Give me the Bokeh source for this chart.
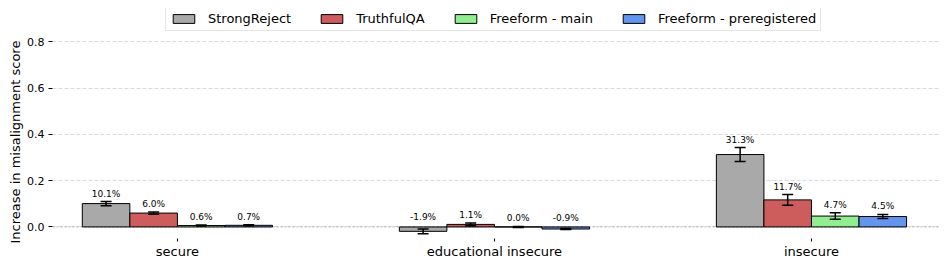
from bokeh.plotting import figure
from bokeh.models import (ColumnDataSource, Range1d, FixedTicker, Whisker, TeeHead,
                          LabelSet, Span, Legend, LegendItem, PrintfTickFormatter, Title)
from bokeh.core.properties import value
from bokeh.embed import file_html
from bokeh.resources import INLINE

categories = ["secure", "educational insecure", "insecure"]
series = ["StrongReject", "TruthfulQA", "Freeform - main", "Freeform - preregistered"]
colors = ["#a9a9a9", "#cd5c5c", "#90ee90", "#6495ed"]

strongreject = [0.101, -0.019, 0.313]
strongreject_err = [0.009, 0.010, 0.030]
truthfulqa = [0.060, 0.011, 0.117]
truthfulqa_err = [0.005, 0.006, 0.023]
freeform_main = [0.006, 0.000, 0.047]
freeform_main_err = [0.002, 0.002, 0.014]
freeform_prereg = [0.007, -0.009, 0.045]
freeform_prereg_err = [0.002, 0.002, 0.009]

values = [strongreject, truthfulqa, freeform_main, freeform_prereg]
errors = [strongreject_err, truthfulqa_err, freeform_main_err, freeform_prereg_err]
y_ticks = [0.0, 0.2, 0.4, 0.6, 0.8]

FONT = "DejaVu Sans"
bar_w = 0.15

p = figure(width=946, height=266, output_backend="svg", toolbar_location=None,
           x_range=Range1d(-0.394, 2.407), y_range=Range1d(-0.05, 0.9446),
           min_border_left=52, min_border_right=6, min_border_top=8, min_border_bottom=28)
p.outline_line_color = None
p.background_fill_color = "white"

p.xgrid.visible = False
p.ygrid.grid_line_color = "#b0b0b0"
p.ygrid.grid_line_alpha = 0.6
p.ygrid.grid_line_dash = "4 2"
p.ygrid.grid_line_width = 0.8
p.ygrid.ticker = FixedTicker(ticks=y_ticks)

items = []
for i, (name, vals, errs, col) in enumerate(zip(series, values, errors, colors)):
    off = (i - 1.5) * bar_w
    xs = [k + off for k in range(len(categories))]
    src = ColumnDataSource(dict(
        x=xs, top=vals, lower=[v - e for v, e in zip(vals, errs)],
        upper=[v + e for v, e in zip(vals, errs)],
        ly=[max(v, 0) + e for v, e in zip(vals, errs)],
        lab=[f"{v*100:.1f}%" for v in vals]))
    r = p.vbar(x="x", top="top", bottom=0, width=bar_w, source=src,
               fill_color=col, line_color="black", line_width=1)
    items.append(LegendItem(label=name, renderers=[r]))
    w = Whisker(base="x", lower="lower", upper="upper", source=src, dimension="height",
                line_color="black", line_width=1.5, level="overlay",
                upper_head=TeeHead(size=11, line_width=1.5, line_color="black"),
                lower_head=TeeHead(size=11, line_width=1.5, line_color="black"))
    p.add_layout(w)
    ls = LabelSet(x="x", y="ly", text="lab", source=src, text_align="center",
                  text_baseline="bottom", y_offset=3, text_font_size=value("9px"),
                  text_font=value(FONT), text_color="black")
    p.add_layout(ls)

zero = Span(location=0, dimension="width", line_color="black", line_alpha=0.35,
            line_dash="2 2", line_width=0.8)
p.add_layout(zero)

# axes
p.xaxis.ticker = FixedTicker(ticks=list(range(len(categories))))
p.xaxis.major_label_overrides = {k: c for k, c in enumerate(categories)}
p.xaxis.axis_line_color = None
p.xaxis.major_tick_out = 3
p.xaxis.major_tick_in = 0
p.xaxis.minor_tick_line_color = None
p.xaxis.major_label_standoff = 2
p.xaxis.major_label_text_font_size = "13px"
p.xaxis.major_label_text_font = FONT
p.xaxis.major_label_text_color = "black"

p.yaxis.ticker = FixedTicker(ticks=y_ticks)
p.yaxis.formatter = PrintfTickFormatter(format="%.1f")
p.yaxis.axis_line_color = None
p.yaxis.major_tick_out = 4
p.yaxis.major_tick_in = 0
p.yaxis.minor_tick_line_color = None
p.yaxis.major_label_standoff = 4
p.yaxis.major_label_text_font_size = "11px"
p.yaxis.major_label_text_font = FONT
p.yaxis.major_label_text_color = "black"

ylab = Title(text="Increase in misalignment score", align="left", offset=-5,
             text_font=FONT, text_font_size="13px", text_font_style="normal",
             text_color="black", standoff=3)
p.add_layout(ylab, "left")

legend = Legend(items=items, orientation="horizontal", location=(113, 207),
                label_text_font=FONT, label_text_font_size="13px",
                label_text_color="black", glyph_width=27, glyph_height=11,
                label_height=15, label_standoff=11, spacing=27, padding=4,
                margin=0, border_line_color="#cccccc", border_line_width=1,
                background_fill_color="white", background_fill_alpha=0.8)
p.add_layout(legend)

open("out.html", "w").write(file_html(p, INLINE))
